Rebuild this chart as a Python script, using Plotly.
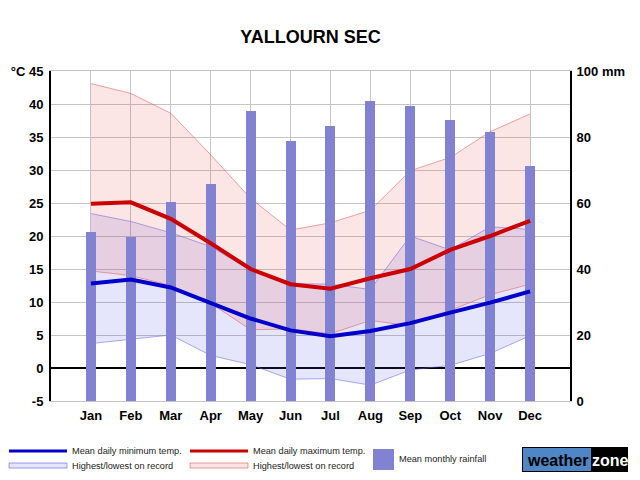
import plotly.graph_objects as go

months = ['Jan', 'Feb', 'Mar', 'Apr', 'May', 'Jun', 'Jul', 'Aug', 'Sep', 'Oct', 'Nov', 'Dec']
month_pos = [1, 2, 3, 4, 5, 6, 7, 8, 9, 10, 11, 12]
mean_min = [12.8, 13.4, 12.2, 9.9, 7.5, 5.7, 4.8, 5.6, 6.8, 8.4, 9.9, 11.6]
mean_max = [24.9, 25.1, 22.6, 18.9, 15.0, 12.7, 12.0, 13.6, 15.0, 17.9, 20.0, 22.3]
rec_high_max = [43.1, 41.6, 38.6, 32.3, 25.7, 20.9, 22.0, 23.9, 29.9, 31.9, 35.8, 38.5]
rec_low_max = [14.7, 14.0, 12.5, 9.8, 5.8, 5.9, 5.2, 7.2, 6.4, 8.8, 11.1, 12.7]
rec_high_min = [23.4, 22.2, 20.5, 18.4, 14.8, 12.8, 12.7, 11.9, 20.0, 17.9, 21.4, 21.0]
rec_low_min = [3.7, 4.3, 5.0, 1.9, 0.5, -1.7, -1.6, -2.6, -0.3, 0.4, 2.2, 4.9]
rainfall = [51.3, 49.7, 60.3, 65.8, 88.0, 78.8, 83.4, 90.8, 89.3, 85.2, 81.6, 71.1]

temp_ticks = [-5, 0, 5, 10, 15, 20, 25, 30, 35, 40, 45]
temp_ticktext = ['-5', '0', '5', '10', '15', '20', '25', '30', '35', '40', '°C 45']
rain_ticks = [0, 20, 40, 60, 80, 100]
rain_ticktext = ['0', '20', '40', '60', '80', '100 mm']

FONT = 'Liberation Sans, Arial, sans-serif'
LEG_FONT = dict(family=FONT, size=9.2, color='#222')
RED = '#cc0000'
BLUE = '#0000cc'
RED_FILL = 'rgba(230,80,80,0.15)'
BLUE_FILL = 'rgba(80,80,230,0.15)'
RED_EDGE = 'rgba(225,90,90,0.55)'
BLUE_EDGE = 'rgba(90,90,235,0.5)'
BAR = '#8282d2'

fig = go.Figure()

# record bands (base subplot)
fig.add_trace(go.Scatter(x=month_pos, y=rec_low_min, mode='lines',
                         line=dict(color=BLUE_EDGE, width=1), showlegend=False, hoverinfo='skip'))
fig.add_trace(go.Scatter(x=month_pos, y=rec_high_min, mode='lines', fill='tonexty',
                         fillcolor=BLUE_FILL, line=dict(color=BLUE_EDGE, width=1),
                         showlegend=False, hoverinfo='skip'))
fig.add_trace(go.Scatter(x=month_pos, y=rec_low_max, mode='lines',
                         line=dict(color=RED_EDGE, width=1), showlegend=False, hoverinfo='skip'))
fig.add_trace(go.Scatter(x=month_pos, y=rec_high_max, mode='lines', fill='tonexty',
                         fillcolor=RED_FILL, line=dict(color=RED_EDGE, width=1),
                         showlegend=False, hoverinfo='skip'))

# rainfall bars (y2)
fig.add_trace(go.Bar(x=month_pos, y=rainfall, yaxis='y2', width=0.25,
                     marker=dict(color=BAR, line=dict(width=0)), showlegend=False))

# mean lines (y3, same scale as y)
fig.add_trace(go.Scatter(x=month_pos, y=mean_max, yaxis='y3', mode='lines',
                         line=dict(color=RED, width=4), showlegend=False))
fig.add_trace(go.Scatter(x=month_pos, y=mean_min, yaxis='y3', mode='lines',
                         line=dict(color=BLUE, width=4), showlegend=False))

L, R, T, B = 51, 570, 71, 401


def px(xp):
    return (xp - L) / (R - L)


def py(yp):
    return (B - yp) / (B - T)


shapes = []
annotations = []

# legend: mean min
shapes.append(dict(type='line', xref='paper', yref='paper', x0=px(9), x1=px(67), y0=py(451), y1=py(451),
                   line=dict(color=BLUE, width=3)))
annotations.append(dict(xref='paper', yref='paper', x=px(70), y=py(451), text='Mean daily minimum temp.',
                        showarrow=False, xanchor='left', yanchor='middle', font=LEG_FONT))
shapes.append(dict(type='rect', xref='paper', yref='paper', x0=px(9), x1=px(67), y0=py(463), y1=py(468),
                   fillcolor='rgba(80,80,230,0.15)', line=dict(color='rgba(90,90,235,0.6)', width=1)))
annotations.append(dict(xref='paper', yref='paper', x=px(70), y=py(466), text='Highest/lowest on record',
                        showarrow=False, xanchor='left', yanchor='middle', font=LEG_FONT))
# legend: mean max
shapes.append(dict(type='line', xref='paper', yref='paper', x0=px(190), x1=px(248), y0=py(451), y1=py(451),
                   line=dict(color=RED, width=3)))
annotations.append(dict(xref='paper', yref='paper', x=px(251), y=py(451), text='Mean daily maximum temp.',
                        showarrow=False, xanchor='left', yanchor='middle', font=LEG_FONT))
shapes.append(dict(type='rect', xref='paper', yref='paper', x0=px(190), x1=px(248), y0=py(463), y1=py(468),
                   fillcolor='rgba(230,80,80,0.15)', line=dict(color='rgba(225,90,90,0.6)', width=1)))
annotations.append(dict(xref='paper', yref='paper', x=px(251), y=py(466), text='Highest/lowest on record',
                        showarrow=False, xanchor='left', yanchor='middle', font=LEG_FONT))
# legend: rainfall
shapes.append(dict(type='rect', xref='paper', yref='paper', x0=px(373), x1=px(394), y0=py(449), y1=py(470),
                   fillcolor=BAR, line=dict(width=0)))
annotations.append(dict(xref='paper', yref='paper', x=px(397), y=py(459), text='Mean monthly rainfall',
                        showarrow=False, xanchor='left', yanchor='middle', font=LEG_FONT))
# logo
shapes.append(dict(type='rect', xref='paper', yref='paper', x0=px(522), x1=px(628), y0=py(447), y1=py(472),
                   fillcolor='#000000', line=dict(width=0)))
shapes.append(dict(type='rect', xref='paper', yref='paper', x0=px(523), x1=px(591), y0=py(448), y1=py(471),
                   fillcolor='#4f86c6', line=dict(width=0)))
annotations.append(dict(xref='paper', yref='paper', x=px(557), y=py(460), text='weather',
                        showarrow=False, xanchor='center', yanchor='middle',
                        font=dict(family=FONT, size=16, color='#000', weight='bold')))
annotations.append(dict(xref='paper', yref='paper', x=px(610), y=py(460), text='zone',
                        showarrow=False, xanchor='center', yanchor='middle',
                        font=dict(family=FONT, size=16, color='#fff', weight='bold')))

fig.update_layout(
    width=640, height=480,
    margin=dict(l=L, r=640 - R, t=T, b=480 - B, autoexpand=False),
    paper_bgcolor='white', plot_bgcolor='white',
    showlegend=False,
    bargap=0,
    title=dict(text='YALLOURN SEC', x=0.5, xref='paper', xanchor='center', y=1 - 37 / 480, yanchor='middle',
               font=dict(family=FONT, size=18, color='#000', weight='bold')),
    xaxis=dict(range=[0, 13], tickvals=month_pos, ticktext=months, showgrid=True, gridcolor='#c4c4c4',
               gridwidth=1, zeroline=False, showline=True, linecolor='#c4c4c4', linewidth=1, mirror=True,
               ticks='', ticklabelstandoff=2,
               tickfont=dict(family=FONT, size=13, color='#000', weight='bold'), fixedrange=True),
    yaxis=dict(range=[-5, 45], tickvals=temp_ticks, ticktext=temp_ticktext, showgrid=True,
               gridcolor='#c4c4c4', gridwidth=1, zeroline=True, zerolinecolor='#000', zerolinewidth=2,
               showline=True, linecolor='#000', linewidth=2, ticks='', ticklabelstandoff=3,
               tickfont=dict(family=FONT, size=13, color='#000', weight='bold'), fixedrange=True),
    yaxis2=dict(range=[0, 100], overlaying='y', side='right', anchor='x', tickvals=rain_ticks,
                ticktext=rain_ticktext, showgrid=False, zeroline=False, showline=True, linecolor='#000',
                linewidth=2, ticks='', ticklabelstandoff=2,
                tickfont=dict(family=FONT, size=13, color='#000', weight='bold'), fixedrange=True),
    yaxis3=dict(range=[-5, 45], overlaying='y', anchor='x', visible=False, showgrid=False,
                zeroline=False, fixedrange=True),
    shapes=shapes,
    annotations=annotations,
)

fig.write_html('out.html', config={'displayModeBar': False},
               post_script="document.body.style.margin='0';document.body.style.overflow='hidden';")
